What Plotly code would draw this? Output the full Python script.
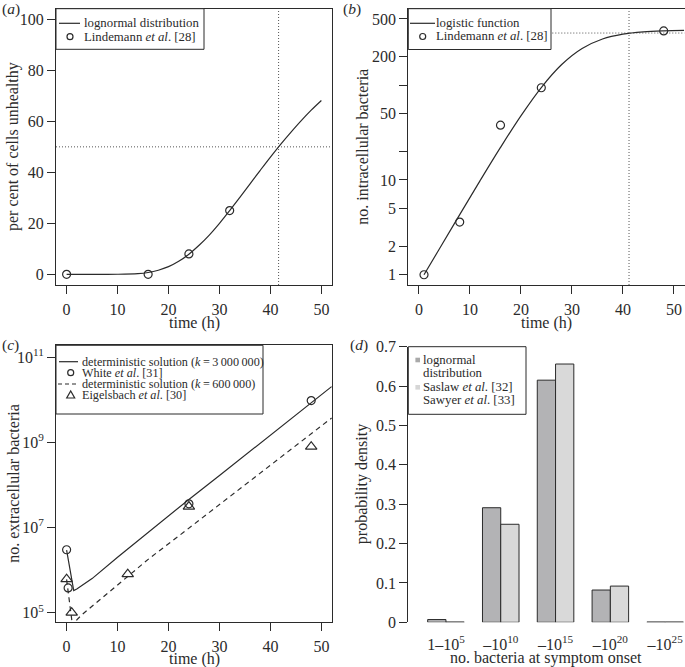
import plotly.graph_objects as go

FONT = "Liberation Serif"
INK = "#2b2b2b"
W, H = 685, 667

# ---------------- data ----------------
# (a) per cent of cells unhealthy
a_obs_t = [0, 16, 24, 32]
a_obs_pct = [0, 0, 8, 25]
a_fit_t = [0, 5, 10, 14, 16, 18, 20, 22, 24, 26, 28, 30, 32, 34, 36, 38, 40, 42, 44, 46, 48, 50]
a_fit_pct = [0, 0, 0.01, 0.26, 0.7, 1.6, 3.0, 5.1, 7.9, 11.4, 15.4, 20.0, 25.0, 30.2, 35.5,
             40.8, 46.0, 51.0, 55.7, 60.2, 64.4, 68.2]
a_ref_pct = 50
a_ref_t = 41.6
a_xticks = [0, 10, 20, 30, 40, 50]
a_yticks = [0, 20, 40, 60, 80, 100]

# (b) intracellular bacteria
b_obs_t = [1, 8, 16, 24, 48]
b_obs_n = [1, 3.6, 37.9, 94, 374]
b_fit_t = [1, 4, 8, 12, 16, 20, 24, 28, 32, 36, 40, 44, 48, 52]
b_fit_n = [1.0, 1.87, 4.31, 9.84, 22.05, 47.5, 94.5, 165.1, 243.7, 306.8, 345.5, 365.3, 374.6, 378.8]
b_ref_n = 355
b_ref_t = 41.2
b_tickvals = [1, 2, 5, 10, 50, 200, 500]
b_minorvals = [20, 100]

# (c) extracellular bacteria
c_white_t = [0, 0.3, 24, 48]
c_white_n = [3.0e6, 3.8e5, 3.6e7, 9.6e9]
c_eig_t = [0, 1, 12, 24, 48]
c_eig_n = [6.1e5, 1.0e5, 8.0e5, 3.1e7, 7.9e8]
c_k3m_t = [0, 1.4, 2, 3, 5, 10, 16.3, 24, 30, 41.2, 48, 52]
c_k3m_n = [2.95e6, 3.31e5, 3.59e5, 4.27e5, 6.31e5, 2.0e6, 8.3e6, 4.57e7, 1.66e8, 1.95e9, 8.51e9, 2.04e10]
c_k600_t = [0, 0.4, 0.8, 1.1, 1.4, 2, 3, 5, 10, 16.3, 22, 30, 40, 49, 52]
c_k600_n = [6.03e5, 2.63e5, 1.05e5, 5.62e4, 4.79e4, 6.76e4, 8.91e4, 1.41e5, 4.57e5, 1.91e6,
            6.31e6, 3.47e7, 2.88e8, 1.95e9, 3.72e9]
c_tickvals = [1e5, 1e7, 1e9, 1e11]
c_ticktext = ["10<sup>5</sup>", "10<sup>7</sup>", "10<sup>9</sup>", "10<sup>11</sup>"]

# (d) probability density
d_groups = ["1–10<sup>5</sup>", "–10<sup>10</sup>", "–10<sup>15</sup>", "–10<sup>20</sup>", "–10<sup>25</sup>"]
d_lognormal = [0.007, 0.291, 0.615, 0.082, 0.0006]
d_observed = [0.0006, 0.249, 0.656, 0.092, 0.0006]
d_yticks = [0, 0.1, 0.2, 0.3, 0.4, 0.5, 0.6, 0.7]
d_yticktext = ["0", "0.1", "0.2", "0.3", "0.4", "0.5", "0.6", "0.7"]

# ---------------- geometry helpers ----------------
def px(x):
    return x / W

def py(y):
    return 1 - y / H

LEFT = [px(56), px(332)]
RIGHT = [px(408.3), px(684.5)]
TOP = [py(285), py(8.7)]
BOT = [py(621.8), py(345.3)]
BOT_D = [py(622.3), py(346.7)]

fig = go.Figure()

line_style = dict(color="#2b2b2b", width=1.2)
circ = dict(symbol="circle-open", size=8, color=INK, line=dict(width=1.2, color=INK))
tri = dict(symbol="triangle-up-open", size=10, color=INK, line=dict(width=1.2, color=INK))

# (a)
fig.add_trace(go.Scatter(x=a_fit_t, y=a_fit_pct, mode="lines", line=dict(shape="spline", **line_style),
                         xaxis="x", yaxis="y", showlegend=False))
fig.add_trace(go.Scatter(x=a_obs_t, y=a_obs_pct, mode="markers", marker=circ,
                         xaxis="x", yaxis="y", showlegend=False))
# (b)
fig.add_trace(go.Scatter(x=b_fit_t, y=b_fit_n, mode="lines", line=dict(shape="spline", **line_style),
                         xaxis="x2", yaxis="y2", showlegend=False))
fig.add_trace(go.Scatter(x=b_obs_t, y=b_obs_n, mode="markers", marker=circ,
                         xaxis="x2", yaxis="y2", showlegend=False))
# (c)
fig.add_trace(go.Scatter(x=c_k3m_t, y=c_k3m_n, mode="lines", line=line_style,
                         xaxis="x3", yaxis="y3", showlegend=False))
fig.add_trace(go.Scatter(x=c_k600_t, y=c_k600_n, mode="lines", line=dict(dash="5px,4px", **line_style),
                         xaxis="x3", yaxis="y3", showlegend=False))
fig.add_trace(go.Scatter(x=c_white_t, y=c_white_n, mode="markers", marker=circ,
                         xaxis="x3", yaxis="y3", showlegend=False))
fig.add_trace(go.Scatter(x=c_eig_t, y=c_eig_n, mode="markers", marker=tri,
                         xaxis="x3", yaxis="y3", showlegend=False))
# (d)
DARK = "#b3b3b5"
LIGHT = "#d9d9d9"
fig.add_trace(go.Bar(x=d_groups, y=d_lognormal, marker=dict(color=DARK, line=dict(color=INK, width=1)),
                     xaxis="x4", yaxis="y4", showlegend=False))
fig.add_trace(go.Bar(x=d_groups, y=d_observed, marker=dict(color=LIGHT, line=dict(color=INK, width=1)),
                     xaxis="x4", yaxis="y4", showlegend=False))

tickfont = dict(family=FONT, size=16, color=INK)
box_axis = dict(showline=True, mirror=True, linecolor=INK, linewidth=1, ticks="outside", ticklen=8,
                tickcolor=INK, tickwidth=1, showgrid=False, zeroline=False, tickfont=tickfont,
                automargin=False)
xstand = dict(ticklabelstandoff=2)

fig.update_layout(
    template="none",
    font=dict(family=FONT, color=INK),
    width=W, height=H, autosize=False,
    margin=dict(l=0, r=0, t=0, b=0, pad=0, autoexpand=False),
    paper_bgcolor="white", plot_bgcolor="white",
    barmode="group", bargap=1/3, bargroupgap=0,
    xaxis=dict(domain=LEFT, anchor="y", range=[-2.08, 52.08], tickvals=a_xticks, **box_axis, **xstand),
    yaxis=dict(domain=TOP, anchor="x", range=[-4.2, 104.2], tickvals=a_yticks, **box_axis),
    xaxis2=dict(domain=RIGHT, anchor="y2", range=[-2.08, 52.08], tickvals=a_xticks, **box_axis, **xstand),
    yaxis2=dict(domain=TOP, anchor="x2", type="log", range=[-0.108, 2.807], tickvals=b_tickvals,
                ticktext=[str(v) for v in b_tickvals],
                minor=dict(tickvals=b_minorvals, ticks="outside", ticklen=8, tickcolor=INK, showgrid=False),
                **box_axis),
    xaxis3=dict(domain=LEFT, anchor="y3", range=[-2.08, 52.08], tickvals=a_xticks, **box_axis, **xstand),
    yaxis3=dict(domain=BOT, anchor="x3", type="log", range=[4.785, 11.28], tickvals=c_tickvals,
                ticktext=c_ticktext, **box_axis),
    xaxis4=dict(domain=RIGHT, anchor="y4", type="category", range=[-0.687, 4.353], showline=False,
                ticks="outside", ticklen=7, tickcolor="rgba(0,0,0,0)", showgrid=False, zeroline=False,
                tickfont=tickfont, automargin=False),
    yaxis4=dict(domain=BOT_D, anchor="x4", range=[0, 0.7], tickvals=d_yticks, ticktext=d_yticktext,
                showline=True, mirror=False, linecolor=INK, linewidth=1, ticks="outside", ticklen=8,
                tickcolor=INK, showgrid=False, zeroline=False, tickfont=tickfont, automargin=False),
)

shapes = []
dot = dict(color="#555555", width=1, dash="1px,2px")
# reference lines
shapes.append(dict(type="line", xref="x domain", yref="y", x0=0, x1=1, y0=a_ref_pct, y1=a_ref_pct, line=dot, layer="below"))
shapes.append(dict(type="line", xref="x", yref="y domain", x0=a_ref_t, x1=a_ref_t, y0=0, y1=1, line=dot, layer="below"))
shapes.append(dict(type="line", xref="x2 domain", yref="y2", x0=0, x1=1, y0=b_ref_n, y1=b_ref_n, line=dot, layer="below"))
shapes.append(dict(type="line", xref="x2", yref="y2 domain", x0=b_ref_t, x1=b_ref_t, y0=0, y1=1, line=dot, layer="below"))

def box(x0, y0, x1, y1):
    shapes.append(dict(type="rect", xref="paper", yref="paper", x0=px(x0), x1=px(x1), y0=py(y1), y1=py(y0),
                       fillcolor="white", line=dict(color=INK, width=1), layer="above"))

def hline(x0, x1, y, dash="solid"):
    shapes.append(dict(type="line", xref="paper", yref="paper", x0=px(x0), x1=px(x1), y0=py(y), y1=py(y),
                       line=dict(color=INK, width=1.2, dash=dash), layer="above"))

def circle(cx, cy, r=3.0):
    shapes.append(dict(type="circle", xref="paper", yref="paper", x0=px(cx - r), x1=px(cx + r),
                       y0=py(cy + r), y1=py(cy - r), line=dict(color=INK, width=1.2), layer="above"))

def triangle(cx, cy, s=4.0):
    path = "M {:.5f},{:.5f} L {:.5f},{:.5f} L {:.5f},{:.5f} Z".format(
        px(cx - s), py(cy + s * 0.75), px(cx + s), py(cy + s * 0.75), px(cx), py(cy - s))
    shapes.append(dict(type="path", xref="paper", yref="paper", path=path,
                       line=dict(color=INK, width=1.2), layer="above"))

def square(cx, cy, color, s=2.3):
    shapes.append(dict(type="rect", xref="paper", yref="paper", x0=px(cx - s), x1=px(cx + s),
                       y0=py(cy + s), y1=py(cy - s), fillcolor=color, line=dict(width=0), layer="above"))

annotations = []

def text(x, y, s, size=12.8, anchor="left", angle=0, yanchor="middle"):
    annotations.append(dict(x=px(x), y=py(y), xref="paper", yref="paper", text=s, showarrow=False,
                            xanchor=anchor, yanchor=yanchor, textangle=angle, borderpad=0,
                            font=dict(family=FONT, size=size, color=INK)))

# legend (a)
box(56, 8.7, 204, 49.3)
hline(59, 80, 23.3)
circle(70, 36.7)
text(83, 23.3, "lognormal distribution")
text(83, 36.7, "Lindemann <i>et al</i>. [28]")

# legend (b)
box(408.3, 8.7, 551, 49.5)
hline(410, 435, 23.3)
circle(422.7, 36.5)
text(435, 23.3, "logistic function")
text(435, 36.5, "Lindemann <i>et al</i>. [28]")

# legend (c)
box(56, 345.3, 263, 414)
hline(59, 78, 361.7)
circle(70.7, 372.7)
hline(58, 79, 384, dash="4px,3px")
triangle(70.7, 395)
text(81, 361.7, "deterministic solution (<i>k</i>\u2009=\u20093\u2009000\u2009000)", size=12.2)
text(81, 372.9, "White <i>et al</i>. [31]", size=12.2)
text(81, 384, "deterministic solution (<i>k</i>\u2009=\u2009600\u2009000)", size=12.2)
text(81, 395.2, "Eigelsbach <i>et al</i>. [30]", size=12.2)

# legend (d)
box(408.3, 346.7, 526, 414.3)
square(417.7, 360, "#a9a9a9")
square(417.7, 387.3, "#d6d6d6")
text(422, 360, "lognormal")
text(422, 372.7, "distribution")
text(422, 387.3, "Saslaw <i>et al</i>. [32]")
text(422, 400, "Sawyer <i>et al</i>. [33]")

# panel labels
text(1, 9.5, "(<i>a</i>)", size=15.5)
text(342, 9.5, "(<i>b</i>)", size=15.5)
text(1, 345, "(<i>c</i>)", size=15.5)
text(349, 345, "(<i>d</i>)", size=15.5)

# axis titles
text(194, 322.5, "time (h)", size=16, anchor="center")
text(546.4, 322.5, "time (h)", size=16, anchor="center")
text(194, 658.5, "time (h)", size=16, anchor="center")
text(546, 658, "no. bacteria at symptom onset", size=16, anchor="center")
text(13, 147, "per cent of cells unhealthy", size=16, anchor="center", angle=-90)
text(361.7, 147, "no. intracellular bacteria", size=16, anchor="center", angle=-90)
text(13.3, 483.5, "no. extracellular bacteria", size=16, anchor="center", angle=-90)
text(361.7, 484.5, "probability density", size=16, anchor="center", angle=-90)

fig.update_layout(shapes=shapes, annotations=annotations)
POST = ("document.documentElement.style.overflow='hidden';"
        "document.body.style.margin='0';document.body.style.overflow='hidden';"
        "var g=document.getElementById('{plot_id}');"
        "g.style.position='fixed';g.style.left='0px';g.style.top='0px';")
fig.write_html("out.html", config={"displayModeBar": False}, post_script=POST)
